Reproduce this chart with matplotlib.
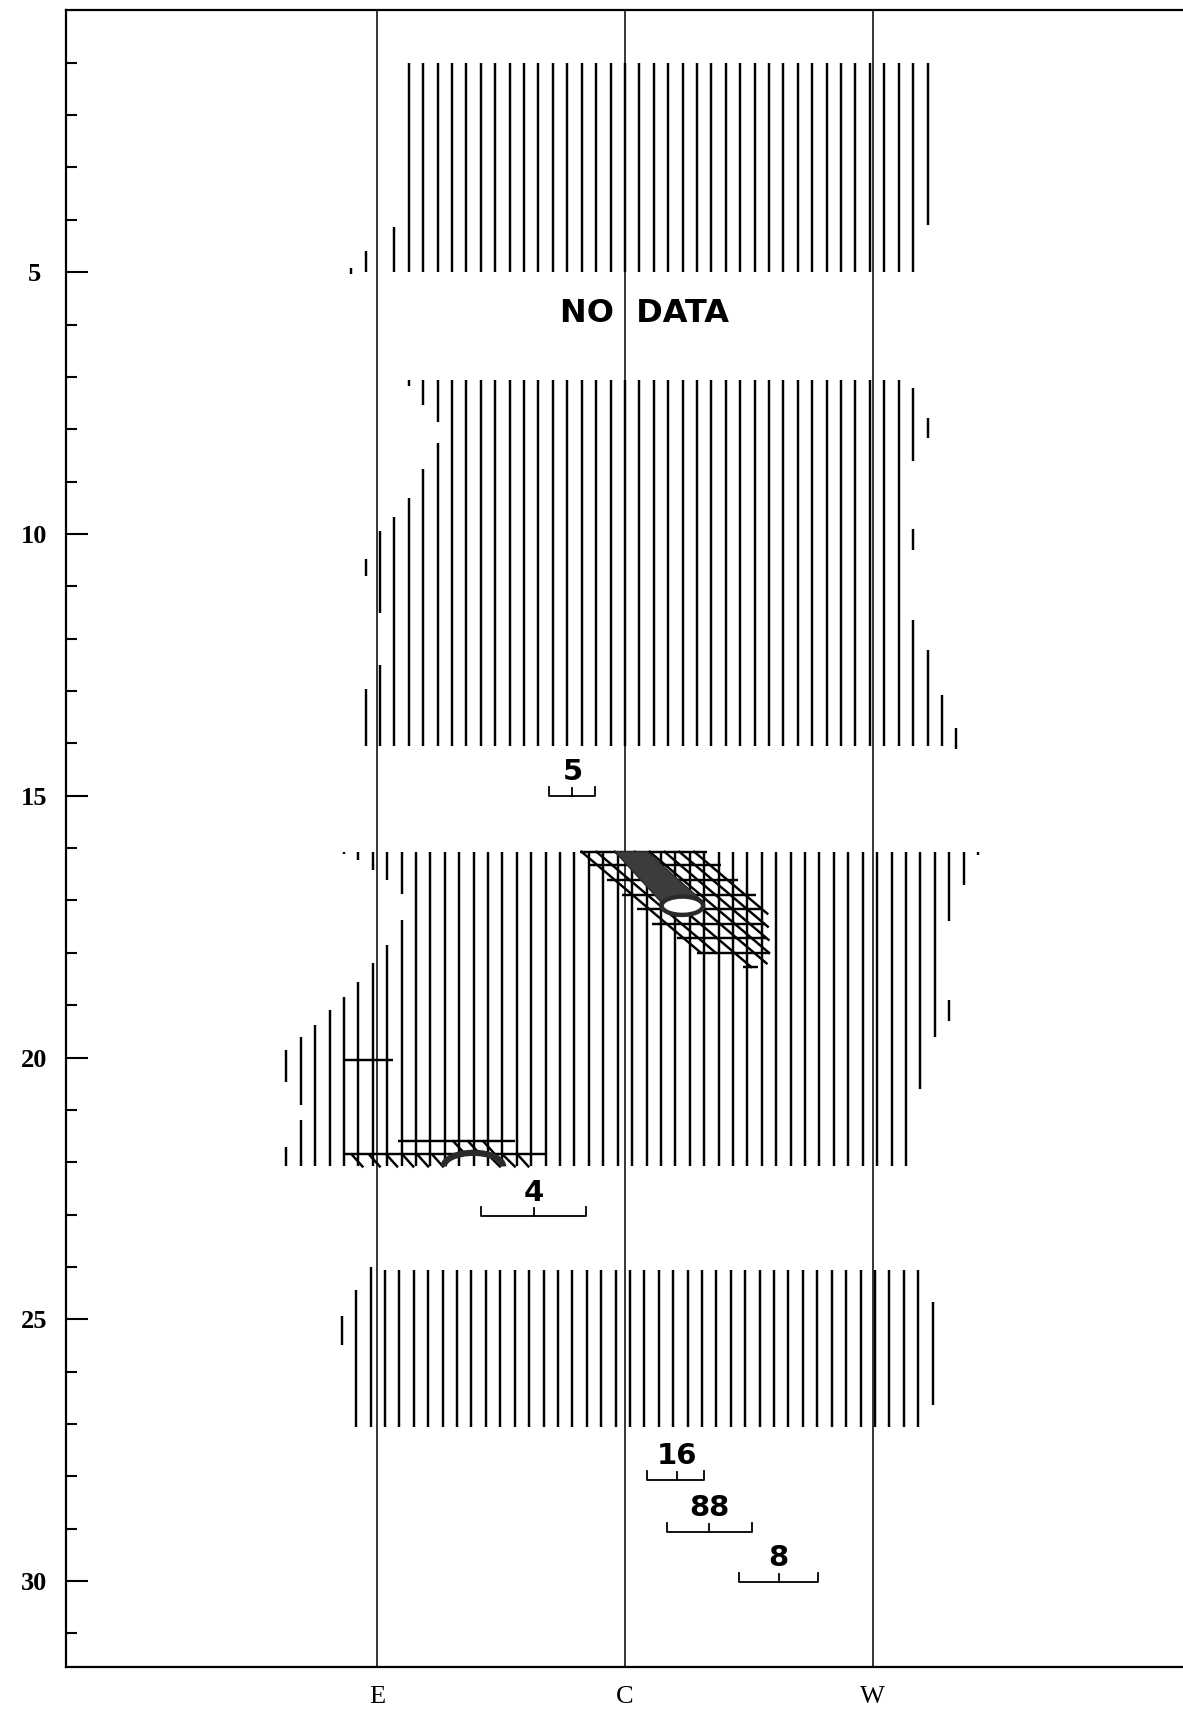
import matplotlib
matplotlib.use("Agg")
import matplotlib.pyplot as plt
from matplotlib.patches import Ellipse, Polygon, Arc

# ---------------- data ----------------
column_labels = ["E", "C", "W"]
column_pos = [-1.0, 0.0, 1.0]

y_major = [5, 10, 15, 20, 25, 30]
y_minor = [1, 2, 3, 4, 6, 7, 8, 9, 11, 12, 13, 14, 16, 17, 18, 19,
           21, 22, 23, 24, 26, 27, 28, 29, 31]

hatch_step = 0.0582

# blocks of vertical hatching
block_top = [1.0, 7.05, 16.07, 24.05]
block_bottom = [5.0, 14.05, 22.08, 27.05]
block_first = [-15, -12, -15, -17]
block_last = [20, 19, 19, 20]
block_offset = [0.0, 0.0, 0.5, 0.35]

# partial hatch lines (block, index, y_start, y_end)
part_block = [0, 0, 0, 0,
              1, 1, 1, 1, 1, 1, 1, 1, 1, 1, 1,
              1, 1, 1, 1, 1, 1, 1,
              2, 2, 2, 2, 2, 2, 2, 2, 2, 2, 2, 2, 2, 2, 2, 2,
              2, 2, 2, 2, 2, 2,
              3, 3, 3, 3]
part_n = [-16, -18, -19, 21,
          -13, -13, -14, -14, -15, -15, -16, -17, -17, -18, -18,
          20, 20, 20, 21, 21, 22, 23,
          -16, -16, -17, -17, -18, -18, -19, -19, -20, -20, -21, -22, -23, -23, -24, -24,
          20, 21, 22, 22, 23, 24,
          -18, -19, -20, 21]
part_y0 = [4.14, 4.60, 4.92, 1.00,
           7.05, 8.26, 7.05, 8.75, 7.05, 9.31, 9.67, 9.95, 12.50, 10.48, 12.97,
           7.21, 9.90, 11.64, 7.78, 12.21, 13.07, 13.70,
           16.07, 17.37, 16.07, 17.85, 16.07, 18.20, 16.07, 18.55, 16.07, 18.84, 19.10, 19.38, 19.60, 21.20, 19.86, 21.70,
           16.07, 16.07, 16.07, 18.90, 16.07, 16.07,
           24.00, 24.43, 24.94, 24.66]
part_y1 = [5.00, 5.00, 5.04, 4.10,
           7.87, 14.05, 7.54, 14.05, 7.18, 14.05, 14.05, 11.50, 14.05, 10.81, 14.05,
           8.60, 10.31, 14.05, 8.16, 14.05, 14.05, 14.10,
           16.87, 22.08, 16.61, 22.08, 16.42, 22.08, 16.23, 22.08, 16.12, 22.08, 22.08, 22.08, 20.91, 22.08, 20.46, 22.08,
           20.60, 19.60, 17.40, 19.30, 16.70, 16.13,
           27.05, 27.05, 25.49, 26.63]

# cross-hatched area (upper, near C)
row_y = [16.07, 16.32, 16.61, 16.90, 17.17, 17.44, 17.71, 18.00, 18.27]
row_u0 = [-0.182, -0.141, -0.074, -0.013, 0.047, 0.108, 0.209, 0.290, 0.477]
row_u1 = [0.330, 0.390, 0.455, 0.530, 0.557, 0.565, 0.575, 0.586, 0.537]
diag_u0 = [-0.175, -0.115, -0.040, 0.040, 0.100, 0.160, 0.220, 0.280]
diag_y0 = [16.07, 16.07, 16.07, 16.07, 16.07, 16.07, 16.07, 16.07]
diag_u1 = [0.307, 0.367, 0.510, 0.572, 0.582, 0.580, 0.577, 0.575]
diag_y1 = [18.00, 18.00, 18.27, 18.20, 18.00, 17.75, 17.50, 17.25]
plume_u = [-0.040, 0.090, 0.315, 0.232, 0.150]
plume_y = [16.07, 16.07, 17.02, 17.12, 17.05]
hole_u, hole_y, hole_w, hole_h = 0.232, 17.10, 0.168, 0.35

# cross-hatched area (lower left)
low_row_y = [20.05, 21.60, 21.85]
low_row_u0 = [-1.139, -0.915, -1.130]
low_row_u1 = [-0.937, -0.444, -0.323]
tick_u0 = [-1.100, -1.030, -0.960, -0.895, -0.835, -0.775, -0.550, -0.490, -0.430,
           -0.693, -0.633, -0.572]
tick_y0 = [21.87, 21.87, 21.87, 21.87, 21.87, 21.87, 21.87, 21.87, 21.87,
           21.60, 21.60, 21.60]
tick_u1 = [-1.060, -0.990, -0.920, -0.855, -0.795, -0.735, -0.505, -0.445, -0.390,
           -0.650, -0.590, -0.530]
tick_y1 = [22.08, 22.08, 22.08, 22.08, 22.08, 22.08, 22.08, 22.08, 22.08,
           21.82, 21.82, 21.82]
arch_u, arch_y, arch_w, arch_h = -0.612, 22.08, 0.24, 0.52

# scale bars
scale_labels = ["5", "4", "16", "88", "8"]
scale_left = [-0.308, -0.580, 0.088, 0.168, 0.460]
scale_right = [-0.120, -0.158, 0.319, 0.512, 0.778]
scale_mid = [-0.212, -0.366, 0.209, 0.341, 0.621]
scale_y = [15.00, 23.03, 28.06, 29.06, 30.01]

no_data_text = "NO  DATA"
no_data_u, no_data_y = 0.079, 5.79

# ---------------- drawing ----------------
W, H = 1183, 1714
fig = plt.figure(figsize=(W / 100, H / 100), dpi=100)
left_px, top_px, bottom_px = 65.6, 10.4, 1667.0
ax = fig.add_axes([left_px / W, 1 - bottom_px / H, 1 - left_px / W,
                   (bottom_px - top_px) / H])
ax.set_xlim(-2.259, 2.254)
ax.set_ylim(31.64, 0)

for s in ["left", "top", "bottom"]:
    ax.spines[s].set_linewidth(1.6)
ax.spines["right"].set_visible(False)

# column reference lines
for x in column_pos:
    ax.axvline(x, color="black", lw=1.1, zorder=3)

hatch_lw = 1.75
# full hatch lines
for b in range(len(block_top)):
    xs = [(n + block_offset[b]) * hatch_step
          for n in range(block_first[b], block_last[b] + 1)]
    ax.vlines(xs, block_top[b], block_bottom[b], color="black", lw=hatch_lw)
# partial hatch lines
for b, n, y0, y1 in zip(part_block, part_n, part_y0, part_y1):
    x = (n + block_offset[b]) * hatch_step
    ax.vlines(x, y0, y1, color="black", lw=hatch_lw)

# cross-hatching near C
ax.hlines(row_y, row_u0, row_u1, color="black", lw=hatch_lw)
for u0, y0, u1, y1 in zip(diag_u0, diag_y0, diag_u1, diag_y1):
    ax.plot([u0, u1], [y0, y1], color="black", lw=hatch_lw)
ax.add_patch(Polygon(list(zip(plume_u, plume_y)), closed=True,
                     facecolor="#3c3c3c", edgecolor="#2a2a2a", lw=1, zorder=4))
ax.add_patch(Ellipse((hole_u, hole_y), hole_w, hole_h, facecolor="white",
                     edgecolor="#2a2a2a", lw=3.2, zorder=5))

# lower-left cross-hatching
ax.hlines(low_row_y, low_row_u0, low_row_u1, color="black", lw=hatch_lw)
for u0, y0, u1, y1 in zip(tick_u0, tick_y0, tick_u1, tick_y1):
    ax.plot([u0, u1], [y0, y1], color="black", lw=hatch_lw)
ax.add_patch(Arc((arch_u, arch_y), arch_w, arch_h, theta1=180, theta2=360,
                 color="#2a2a2a", lw=4.5, zorder=5))

# scale bars with labels
end_h, mid_h = 0.17, 0.15
for lab, l, r, m, y in zip(scale_labels, scale_left, scale_right, scale_mid, scale_y):
    ax.plot([l, l, r, r], [y - end_h, y, y, y - end_h], color="black", lw=1.3)
    ax.plot([m, m], [y, y - mid_h], color="black", lw=1.3)
    ax.text(m, y - 0.45, lab, ha="center", va="center", fontsize=21,
            fontweight="bold", family="DejaVu Sans")

ax.text(no_data_u, no_data_y, no_data_text, ha="center", va="center",
        fontsize=23, fontweight="bold", family="DejaVu Sans", zorder=6)

# axes ticks
ax.set_yticks(y_major)
ax.set_yticks(y_minor, minor=True)
ax.set_yticklabels([str(v) for v in y_major], fontfamily="Liberation Serif",
                   fontweight="bold", fontsize=19, ha="center")
ax.tick_params(axis="y", which="major", direction="in", length=16, width=1.5,
               pad=22.7)
ax.tick_params(axis="y", which="minor", direction="in", length=8, width=1.5)
ax.set_xticks(column_pos)
ax.set_xticklabels(column_labels, fontfamily="Liberation Serif", fontsize=19)
ax.tick_params(axis="x", length=0, pad=14)

fig.savefig("out.png", dpi=100)
